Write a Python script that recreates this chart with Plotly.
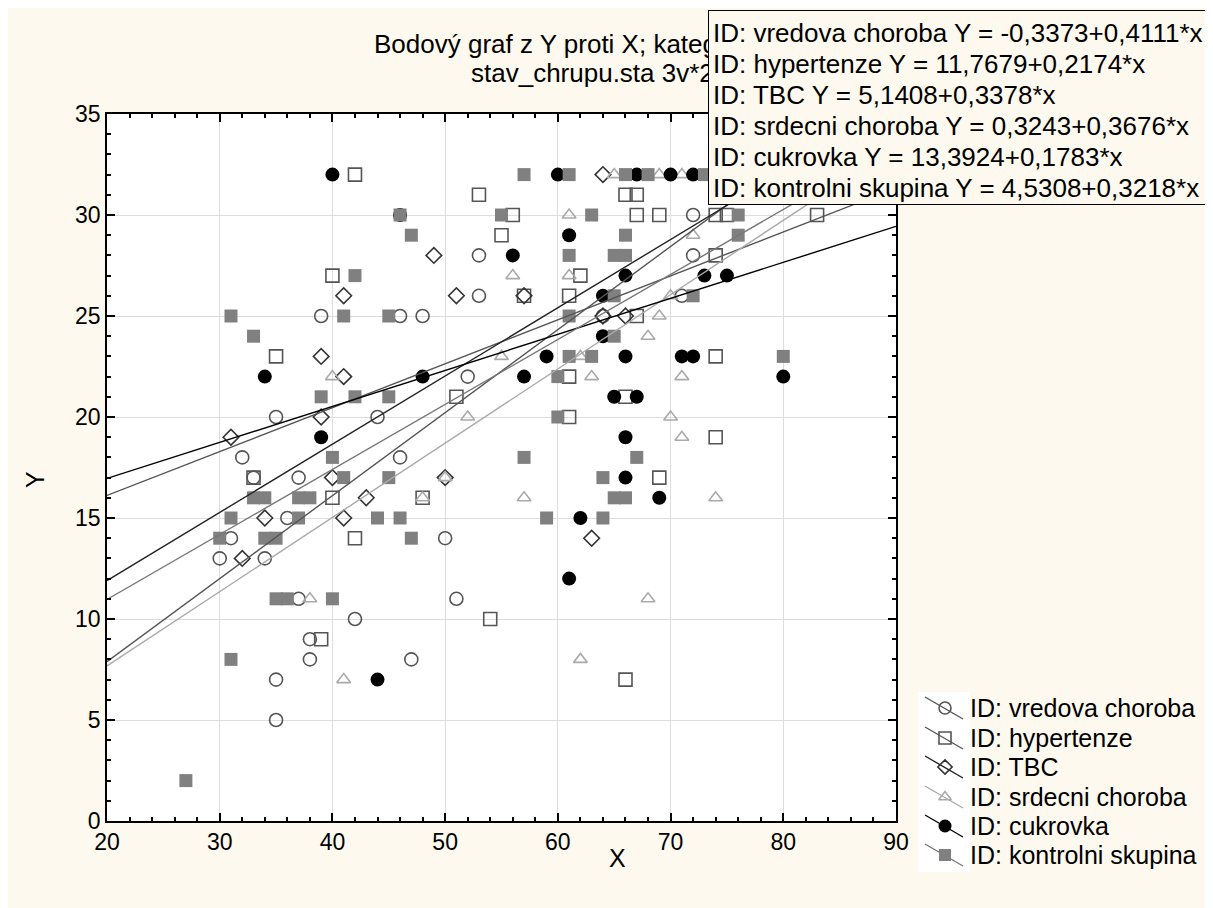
import plotly.graph_objects as go

# ---------------- data ----------------
series_names = ["ID: vredova choroba", "ID: hypertenze", "ID: TBC",
                "ID: srdecni choroba", "ID: cukrovka", "ID: kontrolni skupina"]

vredova_x = [30, 31, 32, 33, 34, 35, 35, 35, 36, 37, 37, 38, 38, 39, 42, 44, 46, 46, 47, 48,
             50, 51, 52, 53, 53, 64, 71, 72, 72]
vredova_y = [13, 14, 18, 17, 13, 20, 7, 5, 15, 17, 11, 9, 8, 25, 10, 20, 25, 18, 8, 25,
             14, 11, 22, 28, 26, 25, 26, 30, 28]

hypertenze_x = [33, 35, 39, 40, 40, 42, 42, 48, 51, 53, 54, 55, 56, 57, 61, 61, 61, 62, 66, 66,
                66, 67, 67, 67, 69, 69, 74, 74, 74, 74, 75, 83]
hypertenze_y = [17, 23, 9, 27, 16, 32, 14, 16, 21, 31, 10, 29, 30, 26, 26, 22, 20, 27, 31, 21,
                7, 31, 30, 25, 30, 17, 30, 28, 23, 19, 30, 30]

tbc_x = [31, 32, 34, 39, 39, 40, 41, 41, 41, 43, 49, 50, 51, 57, 63, 64, 64, 66]
tbc_y = [19, 13, 15, 23, 20, 17, 26, 22, 15, 16, 28, 17, 26, 26, 14, 32, 25, 25]

srdecni_x = [38, 40, 41, 48, 50, 52, 55, 56, 57, 61, 61, 62, 62, 63, 65, 68, 68, 69, 69, 70,
             70, 71, 71, 71, 72, 74]
srdecni_y = [11, 22, 7, 16, 17, 20, 23, 27, 16, 30, 27, 23, 8, 22, 32, 11, 24, 32, 25, 26,
             20, 32, 22, 19, 29, 16]

cukrovka_x = [34, 39, 40, 44, 46, 48, 56, 57, 59, 60, 61, 61, 62, 64, 64, 65, 66, 66, 66, 66,
              67, 67, 69, 70, 71, 72, 72, 73, 75, 80]
cukrovka_y = [22, 19, 32, 7, 30, 22, 28, 22, 23, 32, 29, 12, 15, 26, 24, 21, 27, 23, 19, 17,
              32, 21, 16, 32, 23, 32, 23, 27, 27, 22]

kontrolni_x = [27, 30, 31, 31, 31, 33, 33, 34, 34, 35, 35, 36, 37, 37, 38, 39, 40, 40, 41, 41,
               42, 42, 44, 45, 45, 45, 46, 46, 47, 47, 55, 57, 57, 59, 60, 60, 61, 61, 61, 61,
               63, 63, 64, 64, 65, 65, 65, 65, 66, 66, 66, 66, 67, 68, 72, 73, 76, 76, 80]
kontrolni_y = [2, 14, 25, 15, 8, 24, 16, 16, 14, 14, 11, 11, 16, 15, 16, 21, 18, 11, 25, 17,
               27, 21, 15, 25, 21, 17, 30, 15, 29, 14, 30, 32, 18, 15, 22, 20, 32, 28, 25, 23,
               30, 23, 17, 15, 28, 26, 24, 16, 32, 29, 28, 16, 18, 32, 26, 32, 30, 29, 23]

intercepts = [-0.3373, 11.7679, 5.1408, 0.3243, 13.3924, 4.5308]
slopes = [0.4111, 0.2174, 0.3378, 0.3676, 0.1783, 0.3218]

x_tick_labels = ["20", "30", "40", "50", "60", "70", "80", "90"]
y_tick_labels = ["0", "5", "10", "15", "20", "25", "30", "35"]

# visible part of the title (the rest is hidden behind the equation box in the reference)
title_lines = ["Bodový graf z Y proti X; kateg",
               "stav_chrupu.sta 3v*2"]

# ---------------- styles / layout ----------------
FONT = "Arial, Liberation Sans, sans-serif"
CREAM = "#FDF9EE"
xs = [vredova_x, hypertenze_x, tbc_x, srdecni_x, cukrovka_x, kontrolni_x]
ys = [vredova_y, hypertenze_y, tbc_y, srdecni_y, cukrovka_y, kontrolni_y]
symbols = ["circle-open", "square-open", "diamond-open", "triangle-up-open", "circle", "square"]
mcolors = ["#555555", "#555555", "#333333", "#aaaaaa", "#000000", "#808080"]
msizes = [13, 13, 12, 12, 14, 13]
lcolors = ["#555555", "#555555", "#222222", "#aaaaaa", "#000000", "#777777"]

OFF = 8                 # page body margin
FW, FH = 1205, 900      # figure size (page is 1213 x 908)


def fx(p):              # page px -> paper x
    return (p - OFF) / FW


def fy(p):              # page px -> paper y
    return 1 - (p - OFF) / FH


PL, PR, PT, PB = 107, 896, 114, 821   # plot area in page px

fig = go.Figure()

for i in range(6):
    fig.add_trace(go.Scatter(
        x=xs[i], y=ys[i], mode="markers", name=series_names[i], showlegend=False,
        marker=dict(symbol=symbols[i], color=mcolors[i], size=msizes[i],
                    line=dict(width=1.6 if "open" in symbols[i] else 0, color=mcolors[i])),
    ))

x_line = [20, 90]
for i in range(6):
    fig.add_trace(go.Scatter(
        x=x_line, y=[intercepts[i] + slopes[i] * xv for xv in x_line],
        mode="lines", showlegend=False, hoverinfo="skip",
        line=dict(color=lcolors[i], width=1.4),
    ))

# manual legend glyphs (diagonal line + marker), drawn on an auxiliary hidden axis in page px
rows = [708, 738, 767, 797, 826, 855]
for i in range(6):
    fig.add_trace(go.Scatter(
        x=[925, 963], y=[rows[i] - 11, rows[i] + 11], xaxis="x2", yaxis="y2",
        mode="lines", showlegend=False, hoverinfo="skip",
        line=dict(color=lcolors[i], width=1.4)))
    fig.add_trace(go.Scatter(
        x=[945], y=[rows[i]], xaxis="x2", yaxis="y2",
        mode="markers", showlegend=False, hoverinfo="skip",
        marker=dict(symbol=symbols[i], color=mcolors[i], size=msizes[i] - 1,
                    line=dict(width=1.6 if "open" in symbols[i] else 0, color=mcolors[i]))))


def fmt(v):
    return f"{v:.4f}".replace(".", ",")


def txt(text, x, y, size, xanchor="left", **kw):
    return dict(text=text, x=fx(x), y=fy(y), xref="paper", yref="paper",
                xanchor=xanchor, yanchor="middle", showarrow=False,
                font=dict(family=FONT, size=size, color="black"), **kw)


annotations = [
    txt(title_lines[0], 372, 44, 26),
    txt(title_lines[1], 469, 73, 26),
    dict(text="", x=fx(708), y=fy(10), xref="paper", yref="paper",
         xanchor="left", yanchor="top", showarrow=False,
         width=500, height=193, bgcolor=CREAM, bordercolor="black",
         borderwidth=1, borderpad=0),
]
box_rows = [33, 64, 95, 126, 157, 188]
for i in range(6):
    eq = f"{series_names[i]} Y = {fmt(intercepts[i])}+{fmt(slopes[i])}*x"
    annotations.append(txt(eq, 711, box_rows[i], 26))
for i in range(6):
    annotations.append(txt(series_names[i], 968, rows[i], 25))
annotations.append(txt("X", 617, 858, 25, xanchor="center"))
annotations.append(txt("Y", 35, 480, 25, xanchor="center", textangle=-90))

axis_common = dict(showline=True, linecolor="black", linewidth=1.5, mirror="ticks",
                   ticks="inside", ticklen=8, tickwidth=1.5, tickcolor="black",
                   showgrid=True, gridcolor="#dddddd", gridwidth=1, zeroline=False,
                   automargin=False,
                   tickfont=dict(family=FONT, size=23, color="black"))

fig.update_layout(
    width=FW, height=FH,
    margin=dict(l=0, r=0, t=0, b=0),
    paper_bgcolor=CREAM, plot_bgcolor="white",
    showlegend=False,
    xaxis=dict(domain=[fx(PL), fx(PR)], range=[20, 90],
               tickvals=[int(t) for t in x_tick_labels], ticktext=x_tick_labels,
               minor=dict(dtick=2, ticks="inside", ticklen=4, tickcolor="black", showgrid=False),
               **axis_common),
    yaxis=dict(domain=[fy(PB), fy(PT)], range=[0, 35],
               tickvals=[int(t) for t in y_tick_labels], ticktext=y_tick_labels,
               minor=dict(dtick=1, ticks="inside", ticklen=4, tickcolor="black", showgrid=False),
               **axis_common),
    xaxis2=dict(domain=[fx(918), fx(970)], range=[918, 970], visible=False,
                anchor="y2", fixedrange=True, automargin=False),
    yaxis2=dict(domain=[fy(872), fy(692)], range=[872, 692], visible=False,
                anchor="x2", fixedrange=True, automargin=False),
    annotations=annotations,
)

fig.write_html("out.html")
